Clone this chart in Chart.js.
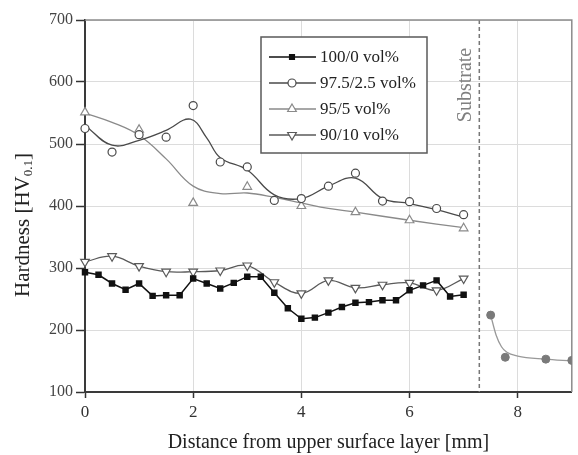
<!DOCTYPE html>
<html><head><meta charset="utf-8">
<script src="https://cdn.jsdelivr.net/npm/chart.js@4/dist/chart.umd.min.js"></script>
<style>html,body{margin:0;padding:0;background:#fff}</style>
</head><body>
<canvas id="c" width="578" height="455"></canvas>
<script>
// ---- data ----
const xTicks = [0, 2, 4, 6, 8];
const yTicks = [100, 200, 300, 400, 500, 600, 700];

const seriesNames = ['100/0 vol%', '97.5/2.5 vol%', '95/5 vol%', '90/10 vol%'];

const sqX = [0,0.25,0.5,0.75,1,1.25,1.5,1.75,2,2.25,2.5,2.75,3,3.25,3.5,3.75,4,4.25,4.5,4.75,5,5.25,5.5,5.75,6,6.25,6.5,6.75,7];
const sqY = [293,289,275,265,275,255,256,256,283,275,267,276,286,286,260,235,218,220,228,237,244,245,248,248,264,272,280,254,257];

const circX = [0,0.5,1,1.5,2,2.5,3,3.5,4,4.5,5,5.5,6,6.5,7];
const circY = [525,487,515,511,562,471,463,409,412,432,453,408,407,396,386];
const circFitX = [0,0.5,1,1.5,1.95,2.25,2.5,3,3.5,4,4.5,5,5.5,6,6.5,7];
const circFitY = [530,498,506,522,540,510,478,458,418,412,432,445,412,404,394,382];

const triX = [0,1,2,3,4,5,6,7];
const triY = [551,523,405,431,400,390,377,364];
const triFitX = [0,0.5,1,1.5,2,2.5,3,3.5,4,4.5,5,6,7];
const triFitY = [550,535,514,476,432,420,421,414,405,396,390,377,365];

const dtriX = [0,0.5,1,1.5,2,2.5,3,3.5,4,4.5,5,5.5,6,6.5,7];
const dtriY = [310,319,303,294,294,296,304,277,259,280,268,273,276,264,283];

const subX = [7.5,7.77,8.52,9.0];
const subY = [224,156,153,151];
const subFitX = [7.5,7.6,7.7,7.8,8.0,8.5,9.0];
const subFitY = [224,192,173,164,158,153,150];

const substrateX = 7.29;

// ---- helpers ----
const pts = (xs, ys) => xs.map((x, i) => ({x, y: ys[i]}));
const SERIF = '"Liberation Serif", "Times New Roman", serif';

const colors = {
  sq: '#111111',
  circ: '#4a4a4a',
  tri: '#8a8a8a',
  dtri: '#5a5a5a',
  sub: '#7a7a7a'
};

const legendItems = [
  {text: seriesNames[0], color: colors.sq, style: 'rect', fill: colors.sq, r: 3.5, rot: 0},
  {text: seriesNames[1], color: colors.circ, style: 'circle', fill: '#fff', r: 4, rot: 0},
  {text: seriesNames[2], color: colors.tri, style: 'triangle', fill: '#fff', r: 5, rot: 0},
  {text: seriesNames[3], color: colors.dtri, style: 'triangle', fill: '#fff', r: 5, rot: 180}
];

const extras = {
  id: 'extras',
  beforeDatasetsDraw(chart) {
    const {ctx, chartArea: a, scales: {x}} = chart;
    const px = x.getPixelForValue(substrateX);
    ctx.save();
    ctx.strokeStyle = '#777';
    ctx.lineWidth = 1.5;
    ctx.setLineDash([4, 3]);
    ctx.beginPath();
    ctx.moveTo(px, a.top);
    ctx.lineTo(px, a.bottom);
    ctx.stroke();
    ctx.setLineDash([]);
    ctx.strokeStyle = '#8c8c8c';
    ctx.lineWidth = 1.5;
    ctx.beginPath();
    ctx.moveTo(a.left, a.top);
    ctx.lineTo(a.right, a.top);
    ctx.lineTo(a.right, a.bottom);
    ctx.stroke();
    ctx.translate(px - 14, a.top + 65);
    ctx.rotate(-Math.PI / 2);
    ctx.fillStyle = '#808080';
    ctx.font = '20px ' + SERIF;
    ctx.textAlign = 'center';
    ctx.textBaseline = 'middle';
    ctx.fillText('Substrate', 0, 0);
    ctx.restore();
  },
  afterDraw(chart) {
    const {ctx, chartArea: a} = chart;
    ctx.save();
    const bx = 261, by = 37, bw = 166, bh = 116;
    ctx.fillStyle = '#fff';
    ctx.fillRect(bx, by, bw, bh);
    ctx.strokeStyle = '#5a5a5a';
    ctx.lineWidth = 1.5;
    ctx.strokeRect(bx, by, bw, bh);
    ctx.font = '17px ' + SERIF;
    ctx.textBaseline = 'middle';
    ctx.textAlign = 'left';
    legendItems.forEach((it, i) => {
      const y = by + 20 + i * 26;
      ctx.strokeStyle = it.color;
      ctx.lineWidth = 1.5;
      ctx.beginPath();
      ctx.moveTo(bx + 8, y);
      ctx.lineTo(bx + 55, y);
      ctx.stroke();
      ctx.fillStyle = it.fill;
      ctx.lineWidth = 1.2;
      Chart.helpers.drawPoint(ctx, {pointStyle: it.style, radius: it.r, rotation: it.rot, borderWidth: 1.2}, bx + 31, y);
      ctx.fillStyle = '#222';
      ctx.fillText(it.text, bx + 59, y + 1);
    });
    ctx.translate(23, (a.top + a.bottom) / 2 + 19);
    ctx.rotate(-Math.PI / 2);
    ctx.fillStyle = '#222';
    ctx.textBaseline = 'middle';
    ctx.textAlign = 'left';
    const big = '21px ' + SERIF, small = '13px ' + SERIF;
    const p1 = 'Hardness [HV', p2 = '0.1', p3 = ']';
    ctx.font = big; const w1 = ctx.measureText(p1).width; const w3 = ctx.measureText(p3).width;
    ctx.font = small; const w2 = ctx.measureText(p2).width;
    let sx = -(w1 + w2 + w3) / 2;
    ctx.font = big; ctx.fillText(p1, sx, 0); sx += w1;
    ctx.font = small; ctx.fillText(p2, sx, 6); sx += w2;
    ctx.font = big; ctx.fillText(p3, sx, 0);
    ctx.restore();
  }
};

new Chart(document.getElementById('c'), {
  type: 'scatter',
  data: {
    datasets: [
      {label: seriesNames[0], data: pts(sqX, sqY), showLine: true, tension: 0, clip: false,
       borderColor: colors.sq, borderWidth: 1.5, pointStyle: 'rect', pointRadius: 3.5,
       pointBackgroundColor: colors.sq, pointBorderColor: colors.sq, order: 1},
      {label: seriesNames[3], data: pts(dtriX, dtriY), showLine: true, tension: 0.4, clip: false,
       borderColor: colors.dtri, borderWidth: 1.3, pointStyle: 'triangle', pointRotation: 180, pointRadius: 5,
       pointBackgroundColor: '#fff', pointBorderColor: colors.dtri, pointBorderWidth: 1.2, order: 2},
      {label: seriesNames[1], data: pts(circX, circY), showLine: false, clip: false,
       pointStyle: 'circle', pointRadius: 4, pointBackgroundColor: '#fff',
       pointBorderColor: colors.circ, pointBorderWidth: 1.2, order: 3},
      {label: seriesNames[2], data: pts(triX, triY), showLine: false, clip: false,
       pointStyle: 'triangle', pointRadius: 5, pointBackgroundColor: '#fff',
       pointBorderColor: colors.tri, pointBorderWidth: 1.2, order: 4},
      {label: 'fit97', data: pts(circFitX, circFitY), showLine: true, tension: 0.4, pointRadius: 0,
       borderColor: colors.circ, borderWidth: 1.3, order: 6},
      {label: 'fit95', data: pts(triFitX, triFitY), showLine: true, tension: 0.4, pointRadius: 0,
       borderColor: colors.tri, borderWidth: 1.3, order: 7},
      {label: 'substrate', data: pts(subX, subY), showLine: false,
       pointStyle: 'circle', pointRadius: 4,
       pointBackgroundColor: colors.sub, pointBorderColor: colors.sub, order: 5},
      {label: 'substrateFit', data: pts(subFitX, subFitY), showLine: true, cubicInterpolationMode: 'monotone',
       pointRadius: 0, borderColor: '#999', borderWidth: 1.3, order: 8}
    ]
  },
  options: {
    responsive: false,
    animation: false,
    devicePixelRatio: 1,
    layout: {padding: {top: 20, right: 2, left: 0, bottom: 0}},
    plugins: {legend: {display: false}, tooltip: {enabled: false}},
    scales: {
      x: {
        type: 'linear', min: 0, max: 9,
        afterFit: s => { s.height = 63; },
        afterBuildTicks: s => { s.ticks = xTicks.map(v => ({value: v})); },
        grid: {color: '#dcdcdc', lineWidth: 1, tickLength: 6, tickColor: '#333', tickWidth: 1.5},
        border: {display: true, color: '#3a3a3a', width: 2},
        ticks: {font: {size: 17, family: SERIF}, color: '#333', padding: 4, maxRotation: 0},
        title: {display: true, text: 'Distance from upper surface layer [mm]',
                font: {size: 20, family: SERIF}, color: '#222', padding: {top: 0, bottom: 0}}
      },
      y: {
        type: 'linear', min: 100, max: 700,
        afterFit: s => { s.width = 85; },
        afterBuildTicks: s => { s.ticks = yTicks.map(v => ({value: v})); },
        grid: {color: '#dcdcdc', lineWidth: 1, tickLength: 9, tickColor: '#333', tickWidth: 1.5},
        border: {display: true, color: '#3a3a3a', width: 2},
        ticks: {font: {size: 16, family: SERIF}, color: '#444', padding: 3}
      }
    }
  },
  plugins: [extras]
});
</script>
</body></html>
